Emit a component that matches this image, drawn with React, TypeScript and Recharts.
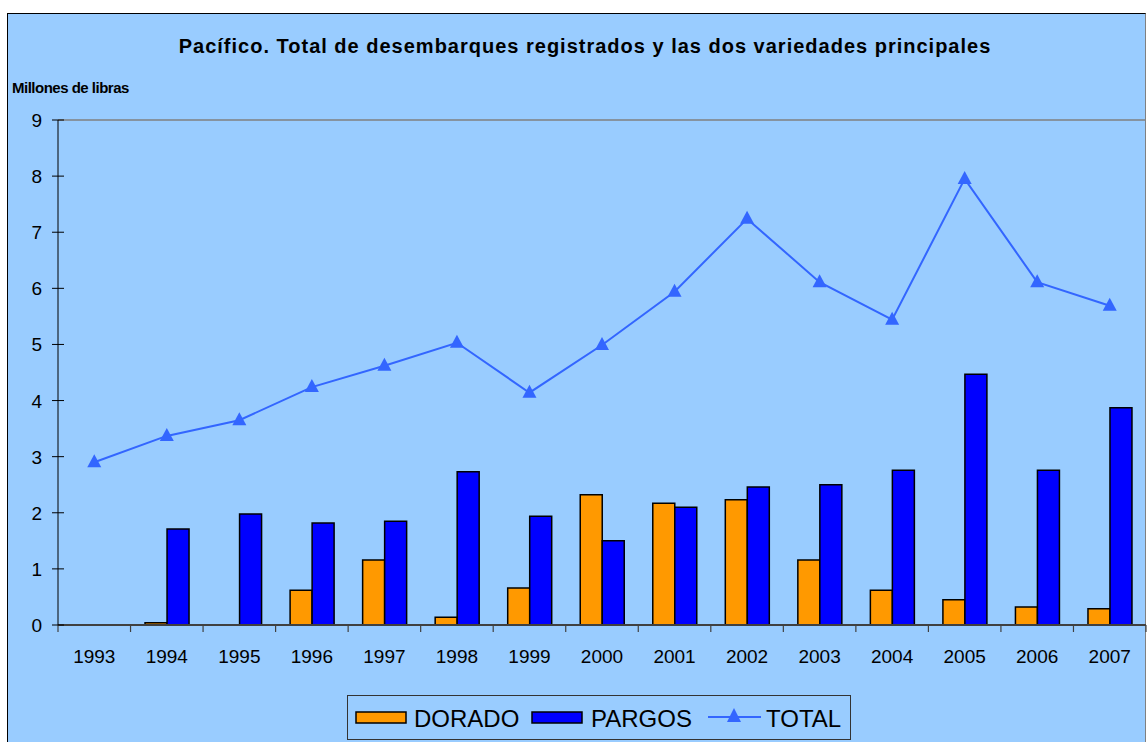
import { Bar, ComposedChart, Line, ReferenceLine, XAxis, YAxis } from 'recharts'

const YEARS = ['1993', '1994', '1995', '1996', '1997', '1998', '1999', '2000', '2001', '2002', '2003', '2004', '2005', '2006', '2007']
const DORADO = [0, 0.04, 0, 0.62, 1.16, 0.14, 0.66, 2.32, 2.17, 2.23, 1.16, 0.62, 0.45, 0.32, 0.29]
const PARGOS = [0, 1.71, 1.98, 1.82, 1.85, 2.73, 1.94, 1.5, 2.1, 2.46, 2.5, 2.76, 4.47, 2.76, 3.87]
const TOTAL = [2.9, 3.37, 3.65, 4.24, 4.62, 5.03, 4.14, 4.99, 5.94, 7.24, 6.11, 5.44, 7.95, 6.11, 5.69]
const Y_TICKS = [0, 1, 2, 3, 4, 5, 6, 7, 8, 9]

const BG = '#99CCFF'
const ORANGE = '#FF9900'
const BLUE = '#0000FF'
const LINE = '#3366FF'
const FONT = '"Liberation Sans", Arial, sans-serif'

const data = YEARS.map((year, i) => ({
  year,
  dorado: DORADO[i],
  pargos: PARGOS[i],
  total: TOTAL[i],
}))

const HALF_BAND = 1088 / YEARS.length / 2

function YTick({ x, y, payload }: any) {
  return (
    <g>
      <line x1={x - 6} x2={x + 6} y1={y} y2={y} stroke="#000" strokeWidth={1} />
      <text x={x - 16} y={y + 7} textAnchor="end" fontSize={19} fontFamily={FONT} fill="#000">
        {payload.value}
      </text>
    </g>
  )
}

function XTick({ x, y, payload, index }: any) {
  return (
    <g>
      <line x1={x - HALF_BAND} x2={x - HALF_BAND} y1={y} y2={y + 7} stroke="#404040" strokeWidth={1.2} />
      {index === YEARS.length - 1 && (
        <line x1={x + HALF_BAND} x2={x + HALF_BAND} y1={y} y2={y + 7} stroke="#404040" strokeWidth={1.2} />
      )}
      <text x={x} y={y + 38} textAnchor="middle" fontSize={19} fontFamily={FONT} fill="#000">
        {payload.value}
      </text>
    </g>
  )
}

function Triangle({ cx, cy }: any) {
  if (cx == null || cy == null) return null
  return <path d={`M${cx},${cy - 8} L${cx + 7},${cy + 5} L${cx - 7},${cy + 5} Z`} fill={LINE} />
}

function LegendBox() {
  return (
    <div
      style={{
        position: 'absolute',
        left: 347,
        top: 695,
        width: 502,
        height: 43,
        border: '1px solid #333',
        fontFamily: FONT,
        fontSize: 24,
        color: '#000',
      }}
    >
      <svg width={502} height={43} style={{ position: 'absolute', left: 0, top: 0 }}>
        <rect x={8} y={16} width={50} height={11} fill={ORANGE} stroke="#000" strokeWidth={1.5} />
        <text x={66} y={31} fontSize={24} fontFamily={FONT}>DORADO</text>
        <rect x={184} y={16} width={50} height={11} fill={BLUE} stroke="#000" strokeWidth={1.5} />
        <text x={243} y={31} fontSize={24} fontFamily={FONT}>PARGOS</text>
        <line x1={360} x2={413} y1={21} y2={21} stroke={LINE} strokeWidth={2} />
        <path d="M386,12 L393,26 L379,26 Z" fill={LINE} />
        <text x={418} y={31} fontSize={24} fontFamily={FONT}>TOTAL</text>
      </svg>
    </div>
  )
}

export default function App() {
  return (
    <div style={{ position: 'fixed', left: 0, top: 0, width: 1148, height: 742, background: '#fff', overflow: 'hidden' }}>
      <div
        style={{
          position: 'absolute',
          left: 7,
          top: 13,
          width: 1137,
          height: 740,
          background: BG,
          border: '1px solid #000',
          borderRight: '1px solid #808080',
        }}
      />
      <div
        style={{
          position: 'absolute',
          left: 0,
          width: 1170,
          top: 35,
          textAlign: 'center',
          fontFamily: FONT,
          fontWeight: 'bold',
          fontSize: 20,
          letterSpacing: 1,
          color: '#000',
        }}
      >
        Pacífico. Total de desembarques registrados y las dos variedades principales
      </div>
      <div
        style={{
          position: 'absolute',
          left: 12,
          top: 79,
          fontFamily: FONT,
          fontWeight: 'bold',
          fontSize: 15,
          letterSpacing: -0.5,
          color: '#000',
        }}
      >
        Millones de libras
      </div>
      <div style={{ position: 'absolute', left: 0, top: 0 }}>
        <ComposedChart
          width={1148}
          height={742}
          data={data}
          margin={{ top: 120, right: 2, bottom: 77, left: 18 }}
          barCategoryGap="20%"
          barGap={0}
        >
          <XAxis
            dataKey="year"
            height={40}
            interval={0}
            tickSize={0}
            tickMargin={0}
            tickLine={false}
            tick={<XTick />}
            axisLine={{ stroke: '#404040', strokeWidth: 2 }}
          />
          <YAxis
            width={40}
            domain={[0, 9]}
            ticks={Y_TICKS}
            interval={0}
            tickSize={0}
            tickMargin={0}
            tickLine={false}
            tick={<YTick />}
            axisLine={{ stroke: '#000', strokeWidth: 1 }}
          />
          <ReferenceLine y={9} stroke="#808080" strokeWidth={1.5} />
          <Bar dataKey="dorado" fill={ORANGE} stroke="#000" strokeWidth={1.5} isAnimationActive={false} />
          <Bar dataKey="pargos" fill={BLUE} stroke="#000" strokeWidth={1.5} isAnimationActive={false} />
          <Line
            dataKey="total"
            type="linear"
            stroke={LINE}
            strokeWidth={2}
            dot={<Triangle />}
            activeDot={false}
            isAnimationActive={false}
          />
        </ComposedChart>
      </div>
      <LegendBox />
    </div>
  )
}
